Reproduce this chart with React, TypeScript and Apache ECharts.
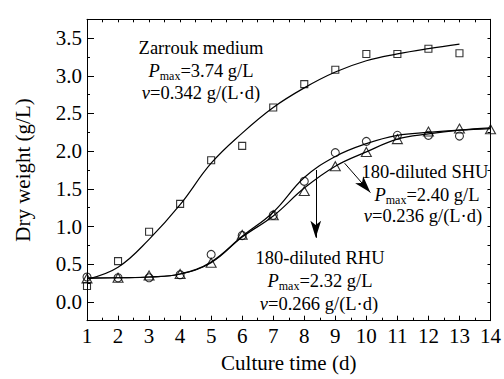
import React, { useEffect, useRef } from "react";
import * as echarts from "echarts";

const days = [1, 2, 3, 4, 5, 6, 7, 8, 9, 10, 11, 12, 13];
const daysExt = [1, 2, 3, 4, 5, 6, 7, 8, 9, 10, 11, 12, 13, 14];

const zarroukObs = [0.21, 0.54, 0.93, 1.3, 1.88, 2.07, 2.58, 2.89, 3.08, 3.29, 3.29, 3.36, 3.3];
const rhuObs = [0.33, 0.32, 0.32, 0.36, 0.63, 0.88, 1.15, 1.6, 1.98, 2.13, 2.21, 2.21, 2.2];
const shuObs = [0.31, 0.32, 0.35, 0.37, 0.52, 0.89, 1.15, 1.47, 1.8, 1.99, 2.16, 2.26, 2.3, 2.29];

const zarroukFit = [0.3, 0.46, 0.83, 1.29, 1.84, 2.24, 2.58, 2.84, 3.05, 3.2, 3.29, 3.36, 3.42];
const rhuFit = [0.32, 0.32, 0.33, 0.37, 0.53, 0.87, 1.19, 1.65, 1.93, 2.1, 2.21, 2.25, 2.28, 2.3];
const shuFit = [0.31, 0.32, 0.33, 0.37, 0.52, 0.86, 1.14, 1.51, 1.8, 1.99, 2.16, 2.23, 2.28, 2.31];

const xTicks = [1, 14];
const yRange = [-0.25, 3.75];
const yMajor = [0, 0.5, 1, 1.5, 2, 2.5, 3, 3.5];

const shuArrow = [[9.3, 1.84], [10.13, 1.45]];
const rhuArrow = [[8.37, 1.75], [8.37, 0.85]];

const FONT = "serif";

const zip = (xs: number[], ys: number[]) => ys.map((y, i) => [xs[i], y]);

export default function App() {
  const ref = useRef<HTMLDivElement>(null);
  useEffect(() => {
    if (!ref.current) return;
    document.body.style.margin = "0";
    const chart = echarts.init(ref.current, undefined, { renderer: "svg" });
    const black = "#000";
    const rich = {
      i: { fontFamily: FONT, fontSize: 18.5, fontStyle: "italic", color: black },
      s: { fontFamily: FONT, fontSize: 12, color: black, padding: [9, 0, 0, 0] },
      n: { fontFamily: FONT, fontSize: 18.5, color: black },
    };
    const txt = (x: number, y: number, text: string) => ({
      type: "text",
      x,
      y,
      z: 100,
      style: {
        text,
        rich,
        fontFamily: FONT,
        fontSize: 18.5,
        fill: black,
        align: "center",
        verticalAlign: "middle",
      },
    });
    const baseX = {
      type: "value",
      min: xTicks[0],
      max: xTicks[1],
      interval: 1,
      splitLine: { show: false },
      axisLine: { show: true, onZero: false, lineStyle: { color: black, width: 1 } },
    };
    const baseY = {
      type: "value",
      min: yRange[0],
      max: yRange[1],
      interval: 0.25,
      splitLine: { show: false },
    };
    const arrowLine = (pts: number[][]) => ({
      type: "line",
      data: [],
      xAxisIndex: 0,
      yAxisIndex: 0,
      markLine: {
        silent: true,
        symbol: ["none", "arrow"],
        symbolSize: [8, 17],
        label: { show: false },
        lineStyle: { color: black, width: 1, type: "solid" },
        data: [[{ coord: pts[0] }, { coord: pts[1] }]],
      },
    });
    chart.setOption({
      animation: false,
      textStyle: { fontFamily: FONT },
      grid: { left: 87, right: 10.5, top: 19.3, bottom: 58.3 },
      xAxis: [
        {
          ...baseX,
          position: "bottom",
          name: "Culture time (d)",
          nameLocation: "middle",
          nameGap: 32,
          nameTextStyle: { fontFamily: FONT, fontSize: 21, color: black },
          axisTick: { show: true, inside: true, length: 5, lineStyle: { color: black } },
          minorTick: { show: true, splitNumber: 2, length: 3, lineStyle: { color: black } },
          axisLabel: { fontFamily: FONT, fontSize: 21, color: black, margin: 5 },
        },
        {
          ...baseX,
          position: "top",
          axisTick: { show: true, inside: true, length: 3, lineStyle: { color: black } },
          minorTick: { show: true, splitNumber: 2, length: 3, lineStyle: { color: black } },
          axisLabel: { show: false },
        },
      ],
      yAxis: [
        {
          ...baseY,
          position: "left",
          name: "Dry weight (g/L)",
          nameLocation: "middle",
          nameGap: 54,
          nameTextStyle: { fontFamily: FONT, fontSize: 21, color: black },
          axisLine: { show: true, onZero: false, lineStyle: { color: black, width: 1 } },
          axisTick: { show: true, inside: true, length: 3, lineStyle: { color: black } },
          axisLabel: {
            fontFamily: FONT,
            fontSize: 21,
            color: black,
            margin: 5,
            formatter: (v: number) =>
              Math.abs(v * 2 - Math.round(v * 2)) < 1e-6 ? v.toFixed(1) : "",
          },
        },
        {
          ...baseY,
          position: "left",
          axisLine: { show: false, onZero: false },
          axisTick: {
            show: true,
            inside: true,
            length: 7,
            customValues: yMajor,
            lineStyle: { color: black },
          },
          axisLabel: { show: false },
        },
        {
          ...baseY,
          position: "right",
          axisLine: { show: true, onZero: false, lineStyle: { color: black, width: 1 } },
          axisTick: { show: true, inside: true, length: 3, lineStyle: { color: black } },
          axisLabel: { show: false },
        },
      ],
      series: [
        {
          type: "line",
          data: zip(days, zarroukFit),
          smooth: 0.4,
          showSymbol: false,
          lineStyle: { color: black, width: 1.2 },
        },
        {
          type: "line",
          data: zip(daysExt, rhuFit),
          smooth: 0.4,
          showSymbol: false,
          lineStyle: { color: black, width: 1.2 },
        },
        {
          type: "line",
          data: zip(daysExt, shuFit),
          smooth: 0.4,
          showSymbol: false,
          lineStyle: { color: black, width: 1.2 },
        },
        {
          type: "scatter",
          data: zip(days, zarroukObs),
          symbol: "rect",
          symbolSize: 7,
          itemStyle: { color: "rgba(0,0,0,0)", borderColor: black, borderWidth: 1.1 },
        },
        {
          type: "scatter",
          data: zip(days, rhuObs),
          symbol: "circle",
          symbolSize: 8,
          itemStyle: { color: "rgba(0,0,0,0)", borderColor: black, borderWidth: 1.1 },
        },
        {
          type: "scatter",
          data: zip(daysExt, shuObs),
          symbol: "triangle",
          symbolSize: [10, 9],
          itemStyle: { color: "rgba(0,0,0,0)", borderColor: black, borderWidth: 1.1 },
        },
        arrowLine(shuArrow),
        arrowLine(rhuArrow),
      ],
      graphic: [
        txt(201, 48, "{n|Zarrouk medium}"),
        txt(201, 71, "{i|P}{s|max}{n|=3.74 g/L}"),
        txt(201, 93, "{i|v}{n|=0.342 g/(L·d)}"),
        txt(425, 172, "{n|180-diluted SHU}"),
        txt(427, 195, "{i|P}{s|max}{n|=2.40 g/L}"),
        txt(423, 216, "{i|v}{n|=0.236 g/(L·d)}"),
        txt(320, 258, "{n|180-diluted RHU}"),
        txt(320, 281, "{i|P}{s|max}{n|=2.32 g/L}"),
        txt(319, 304, "{i|v}{n|=0.266 g/(L·d)}"),
      ],
    });
    return () => chart.dispose();
  }, []);
  return <div ref={ref} style={{ width: 504, height: 379 }} />;
}
